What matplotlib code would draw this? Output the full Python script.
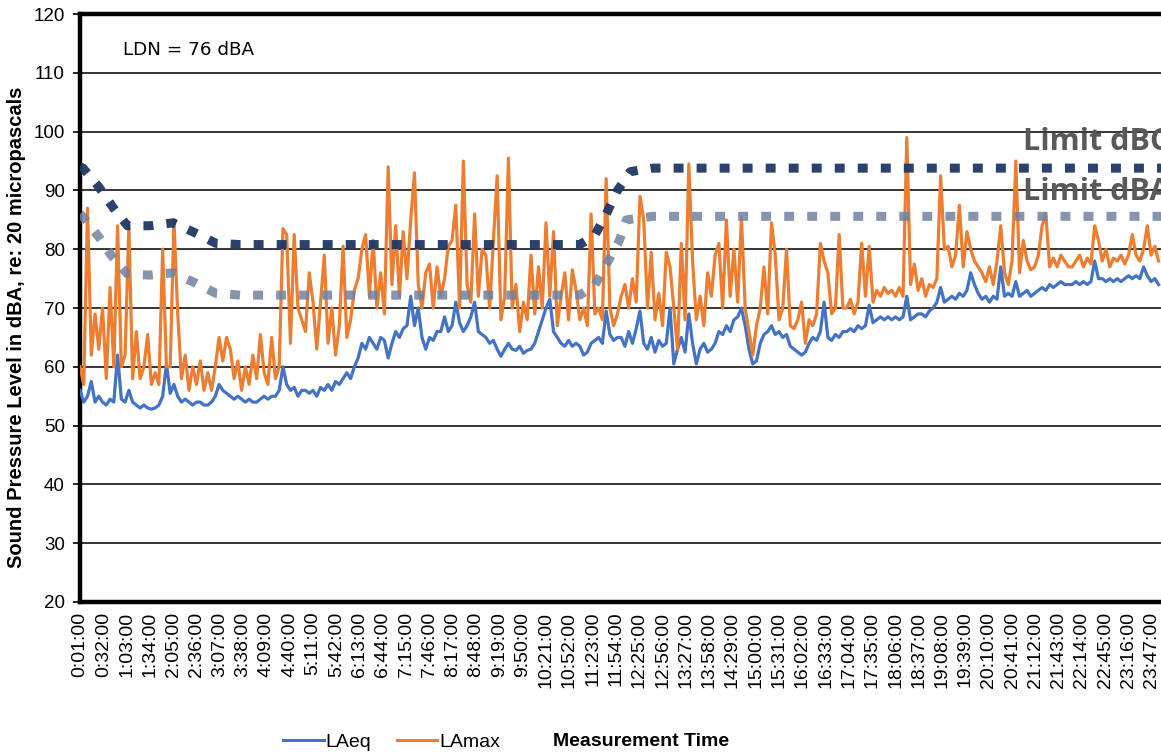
"""Sound pressure level over 24 h with LAeq / LAmax and the dBA / dBC limits."""

import matplotlib
import matplotlib.pyplot as plt
import numpy as np
from matplotlib.lines import Line2D

matplotlib.use("Agg")

# 5-minute samples, first sample at 0:01
minute = np.arange(1, 1440, 5)

# LAeq, one row per hour (12 samples each)
laeq_by_hour = [
    [56, 54, 55, 57.5, 54, 55, 54, 53.5, 54.5, 54, 62, 54.5],
    [54, 56, 54, 53.5, 53, 53.5, 53, 52.8, 53, 53.5, 55, 60.5],
    [55.5, 57, 55, 54, 54.5, 54, 53.5, 54, 54, 53.5, 53.5, 54],
    [55, 57, 56, 55.5, 55, 54.5, 55, 54.5, 54, 54.5, 54, 54],
    [54.5, 55, 54.5, 55, 55, 56, 60, 57, 56, 56.5, 55, 56],
    [56, 55.5, 56, 55, 56.5, 56, 57, 56, 57.5, 57, 58, 59],
    [58, 60, 61.5, 64, 63, 65, 64, 63, 65, 64.5, 61.5, 64],
    [66, 65, 66.5, 67, 72, 67, 70, 65, 63, 65, 64.5, 66],
    [66, 68.5, 66, 67, 71, 67.5, 66, 67, 68.5, 71, 66, 65.5],
    [65, 64, 64.5, 63, 61.8, 63, 64, 63, 62.8, 63.5, 62.3, 62.8],
    [63, 64, 66, 68, 70, 71.5, 66, 65, 64, 63.5, 64.5, 63.5],
    [64, 63.5, 62, 62.5, 64, 64.5, 65, 64, 69.5, 65.5, 64.5, 65],
    [65, 63.5, 66, 64, 66.5, 69.5, 64, 63, 65, 62.5, 64.5, 63.5],
    [64, 70, 60.5, 63, 65, 62.5, 69, 64, 60.5, 63, 64, 62.5],
    [63, 64, 66, 65.5, 67, 66, 68, 68.5, 70, 67, 63, 60.5],
    [61, 64, 65.5, 66, 67, 65.5, 66, 65, 65.5, 63.5, 63, 62.5],
    [62, 62.5, 64, 65, 64.5, 66, 71, 65, 64.5, 65.5, 65, 66],
    [66, 66.5, 66, 67, 66.5, 67, 70.5, 67.5, 68, 68.5, 68, 68.5],
    [68, 68.5, 68, 68.5, 72, 68, 68.5, 69, 69, 68.5, 69.5, 70],
    [71, 73.5, 71, 71.5, 72, 71.5, 72.5, 72, 73, 76, 74, 72.5],
    [71.5, 72, 71, 72, 71.5, 77, 72, 72.5, 72, 74.5, 72, 72.5],
    [73, 72, 72.5, 73, 73.5, 73, 74, 73.5, 74, 74.5, 74, 74],
    [74, 74.5, 74, 74.5, 74, 74.5, 78, 75, 75, 74.5, 75, 74.5],
    [75, 74.5, 75, 75.5, 75, 75.5, 75, 77, 75.5, 74.5, 75, 74],
]

# LAmax, one row per hour (12 samples each)
lamax_by_hour = [
    [60, 57, 87, 62, 69, 63, 70, 58, 73.5, 60, 84, 60],
    [62, 84, 58, 66, 58, 60, 65.5, 57, 59, 57, 80, 60],
    [60, 85, 69, 58, 62, 56, 60, 57, 61, 56, 59, 56],
    [60, 65, 61, 65, 63, 58, 61, 56, 60, 57, 62, 58],
    [65.5, 59, 57, 65, 58, 60, 83.5, 82.5, 64, 82.5, 70, 68],
    [66, 76, 71, 63, 71, 79, 64, 70, 62, 67, 80.5, 65],
    [68, 73, 75, 80, 82.5, 72, 81.5, 70, 76, 69, 94, 74],
    [84, 72, 83, 75, 85, 93, 74, 70, 76, 77.5, 70, 77],
    [72, 75, 80.5, 81.5, 87.5, 70, 95, 74, 71, 86, 72, 80],
    [79, 70, 81.5, 92.5, 68, 72, 95.5, 70, 74, 66, 71, 68],
    [79, 69, 77, 70, 84.5, 72, 83, 67, 72, 76, 68, 76.5],
    [73, 68, 70, 67, 86, 69, 70, 68, 92, 70, 67, 69],
    [72, 74, 70, 75, 71, 89, 85, 70, 79.5, 68, 72.5, 67],
    [79.5, 77, 70, 63, 81, 68, 94.5, 78, 68, 72, 67, 76],
    [72, 79, 81, 70, 85, 72, 80, 71, 85.5, 70, 66, 62],
    [67, 70, 77, 69, 84.5, 79, 68, 70, 80, 67, 66.5, 68],
    [71, 64, 68, 67, 69, 81, 78, 76, 69, 70, 82.5, 70],
    [70, 71.5, 69, 71, 81, 72, 80.5, 71, 73, 72, 73.5, 72.5],
    [73, 72, 73.5, 72, 99, 74, 77.5, 73, 75, 72, 74, 73.5],
    [75, 92.5, 80, 80.5, 77, 79, 87.5, 77, 83, 80, 78, 77],
    [76, 74.5, 77, 74, 78, 84, 76, 74, 78, 95, 76, 81.5],
    [78, 76.5, 77, 79, 84, 86, 77, 78.5, 77, 79, 78, 77],
    [77, 78, 79, 77, 78.5, 77.5, 84, 81.5, 78, 80, 77, 78.5],
    [78, 79, 77.5, 79, 82.5, 79, 78, 80, 84, 79, 80.5, 78],
]

laeq = np.concatenate(laeq_by_hour)
lamax = np.concatenate(lamax_by_hour)

# Limit curves (minute of day, level)
dbc_minute = [1, 5, 26, 45, 64, 94, 125, 154, 182, 214, 666, 686, 702, 715, 733, 763, 1440]
dbc_level = [94, 93.8, 90.6, 87.1, 84.0, 84.0, 84.5, 82.8, 81.0, 80.8, 80.8, 82.4, 86.2, 89.8, 93.2, 93.8, 93.8]
dba_minute = [1, 5, 26, 43, 64, 94, 125, 154, 182, 214, 666, 686, 702, 718, 728, 763, 1440]
dba_level = [86, 85.5, 82.1, 78.9, 75.8, 75.6, 76.0, 74.3, 72.5, 72.2, 72.2, 73.9, 77.6, 81.3, 85.0, 85.6, 85.6]

tick_minutes = np.arange(1, 1440, 31)
tick_labels = [f"{m // 60}:{m % 60:02d}:00" for m in tick_minutes]

LDN_TEXT = "LDN = 76 dBA"

plt.rcParams["font.family"] = ["Liberation Sans", "DejaVu Sans"]

W, H = 1161, 755
fig = plt.figure(figsize=(W / 100, H / 100), dpi=100)
left, right, top, bottom = 80, 1161.6, 14.1, 602
ax = fig.add_axes([left / W, 1 - bottom / H, (right - left) / W, (bottom - top) / H])

ax.plot(minute, laeq, color="#4472c4", linewidth=2.3, zorder=3)
ax.plot(minute, lamax, color="#ed7d31", linewidth=2.3, zorder=4)
ax.plot(dba_minute, dba_level, color="#71829f", linewidth=6.5, linestyle=(0, (1.1, 1.45)),
        dash_capstyle="butt", alpha=0.85, zorder=5)
ax.plot(dbc_minute, dbc_level, color="#1f3864", linewidth=6.5, linestyle=(0, (1.1, 1.45)),
        dash_capstyle="butt", alpha=0.95, zorder=6)

ax.set_xlim(1, 1440)
ax.set_ylim(20, 120)
ax.set_yticks(range(20, 121, 10))
ax.yaxis.grid(True, color="black", linewidth=1.1)
ax.set_axisbelow(True)
ax.set_xticks(tick_minutes)
ax.set_xticklabels(tick_labels, rotation=90, fontsize=14, va="top", ha="center")
ax.tick_params(axis="x", length=0, pad=7)
ax.tick_params(axis="y", length=5, width=1.2, labelsize=13.5, pad=6, direction="out")

for side in ("left", "top", "bottom"):
    ax.spines[side].set_linewidth(3.2)
    ax.spines[side].set_color("black")
ax.spines["right"].set_visible(False)

ax.set_ylabel("Sound Pressure Level in dBA, re: 20 micropascals", fontsize=14.5, fontweight="bold")
ax.yaxis.set_label_coords(-0.05, 0.468)

ax.text(123 / W, 1 - 55 / H, LDN_TEXT, transform=fig.transFigure, fontsize=13.2,
        family="DejaVu Sans", va="baseline", ha="left")
# the limit labels run past the right edge, as in the original
ax.text(1255, 96.9, "Limit dBC", fontsize=22, fontweight="bold", family="Open Sans",
        color="#595959", va="baseline", ha="left", zorder=7, clip_on=False)
ax.text(1255, 88.4, "Limit dBA", fontsize=22, fontweight="bold", family="Open Sans",
        color="#595959", va="baseline", ha="left", zorder=7, clip_on=False)

handles = [Line2D([], [], color="#4472c4", linewidth=2.2), Line2D([], [], color="#ed7d31", linewidth=2.2)]
fig.legend(handles, ["LAeq", "LAmax"], loc="center left", bbox_to_anchor=(275 / W, 1 - 742 / H),
           ncol=2, frameon=False, handlelength=2.1, handletextpad=0.1, columnspacing=1.3,
           borderaxespad=0, prop={"size": 14})
fig.text(553 / W, 1 - 742 / H, "Measurement Time", fontsize=14, fontweight="bold", va="center", ha="left")

fig.savefig("out.png", dpi=100)
plt.close(fig)
